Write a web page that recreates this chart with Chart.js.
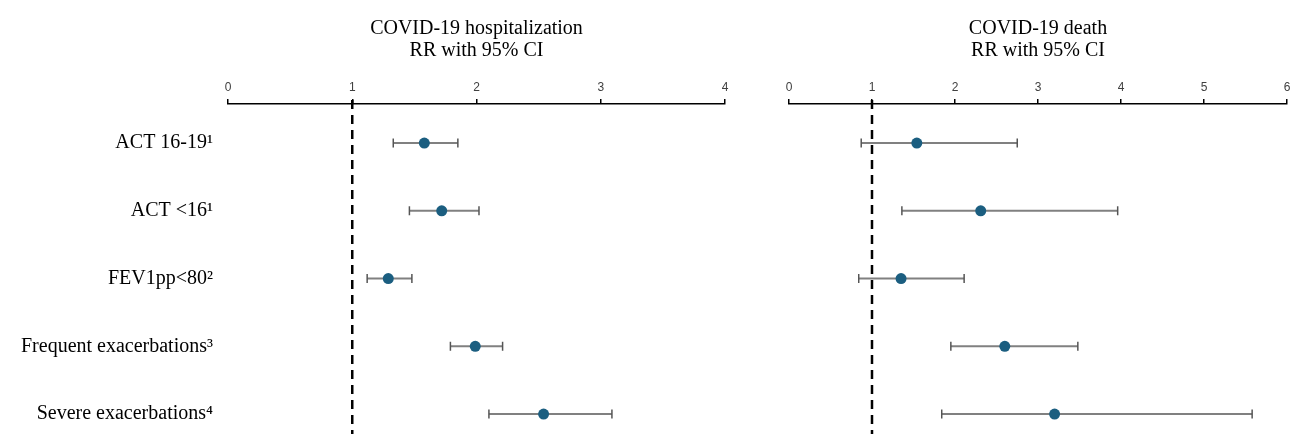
<!DOCTYPE html>
<html>
<head>
<meta charset="utf-8">
<script src="https://cdn.jsdelivr.net/npm/chart.js@4/dist/chart.umd.min.js"></script>
<style>
  html, body { margin: 0; padding: 0; background: #fff; }
  #wrap { position: relative; width: 1294px; height: 434px; overflow: hidden; }
  #hosp { position: absolute; left: 0; top: 0; }
  #death { position: absolute; left: 760px; top: 0; }
</style>
</head>
<body>
<div id="wrap">
  <canvas id="hosp" width="740" height="434"></canvas>
  <canvas id="death" width="534" height="434"></canvas>
</div>
<script>
// rows, top to bottom
const categories = ["ACT 16-19¹", "ACT <16¹", "FEV1pp<80²", "Frequent exacerbations³", "Severe exacerbations⁴"];

// COVID-19 hospitalization, RR with 95% CI
const hospRR = [1.58, 1.72, 1.29, 1.99, 2.54];
const hospLow = [1.33, 1.46, 1.12, 1.79, 2.10];
const hospHigh = [1.85, 2.02, 1.48, 2.21, 3.09];

// COVID-19 death, RR with 95% CI
const deathRR = [1.54, 2.31, 1.35, 2.60, 3.20];
const deathLow = [0.87, 1.36, 0.84, 1.95, 1.84];
const deathHigh = [2.75, 3.96, 2.11, 3.48, 5.58];

const hospTicks = [0, 1, 2, 3, 4];
const deathTicks = [0, 1, 2, 3, 4, 5, 6];
const refValue = 1;

const serif = "'Liberation Serif', 'Times New Roman', serif";

// dashed reference line at RR = 1
const refLine = {
  id: "refLine",
  afterDatasetsDraw(chart) {
    const ctx = chart.ctx;
    const x = chart.scales.x.getPixelForValue(refValue);
    ctx.save();
    ctx.strokeStyle = "#000";
    ctx.lineWidth = 2.5;
    ctx.setLineDash([9, 6]);
    ctx.beginPath();
    ctx.moveTo(x, chart.chartArea.top - 4);
    ctx.lineTo(x, chart.chartArea.bottom);
    ctx.stroke();
    ctx.restore();
  },
};

function noPad(s) {
  s.paddingTop = 0;
  s.paddingBottom = 0;
  s.paddingLeft = 0;
  s.paddingRight = 0;
}

function makeChart(el, title, rr, low, high, ticks, showLabels, padding) {
  const ciSets = categories.map((c, i) => ({
    type: "line",
    showLine: true,
    data: [{ x: low[i], y: i }, { x: high[i], y: i }],
    borderColor: "#808080",
    borderWidth: 2,
    pointStyle: "line",
    rotation: 90,
    pointRadius: 4.5,
    pointBorderColor: "#555",
    pointBorderWidth: 1.5,
    order: 2,
  }));
  const points = {
    type: "scatter",
    data: rr.map((v, i) => ({ x: v, y: i })),
    pointRadius: 5.5,
    pointBackgroundColor: "#1b5e80",
    pointBorderColor: "#1b5e80",
    pointBorderWidth: 0,
    order: 1,
  };
  return new Chart(el, {
    type: "scatter",
    data: { datasets: [points, ...ciSets] },
    options: {
      responsive: false,
      animation: false,
      layout: { padding: padding, autoPadding: false },
      plugins: { legend: { display: false }, tooltip: { enabled: false } },
      scales: {
        x: {
          type: "linear",
          position: "top",
          min: ticks[0],
          max: ticks[ticks.length - 1],
          afterBuildTicks: (s) => { s.ticks = ticks.map((v) => ({ value: v })); },
          afterFit: (s) => { s.height = 104; noPad(s); },
          ticks: { color: "#404040", font: { family: "'Liberation Sans', Arial, sans-serif", size: 12 }, padding: 4 },
          grid: { drawOnChartArea: false, drawTicks: true, tickLength: 5, color: "#000", lineWidth: 1.5 },
          border: { display: true, color: "#000", width: 1.5 },
          title: {
            display: true,
            text: title,
            color: "#000",
            font: { family: serif, size: 20, lineHeight: 1.1 },
            padding: { top: 18, bottom: 0 },
          },
        },
        y: {
          type: "linear",
          reverse: true,
          min: -0.576,
          max: 4.295,
          display: showLabels,
          afterBuildTicks: (s) => { s.ticks = categories.map((c, i) => ({ value: i })); },
          afterFit: (s) => { if (showLabels) s.width = 228; noPad(s); },
          ticks: {
            color: "#000",
            font: { family: serif, size: 20 },
            padding: 15,
            callback: (v) => categories[v],
          },
          grid: { display: false, drawTicks: false },
          border: { display: false },
        },
      },
    },
    plugins: [refLine],
  });
}

makeChart(document.getElementById("hosp"), ["COVID-19 hospitalization", "RR with 95% CI"],
  hospRR, hospLow, hospHigh, hospTicks, true, { left: 0, right: 15, top: 0, bottom: 0 });
makeChart(document.getElementById("death"), ["COVID-19 death", "RR with 95% CI"],
  deathRR, deathLow, deathHigh, deathTicks, false, { left: 29, right: 7, top: 0, bottom: 0 });
</script>
</body>
</html>
